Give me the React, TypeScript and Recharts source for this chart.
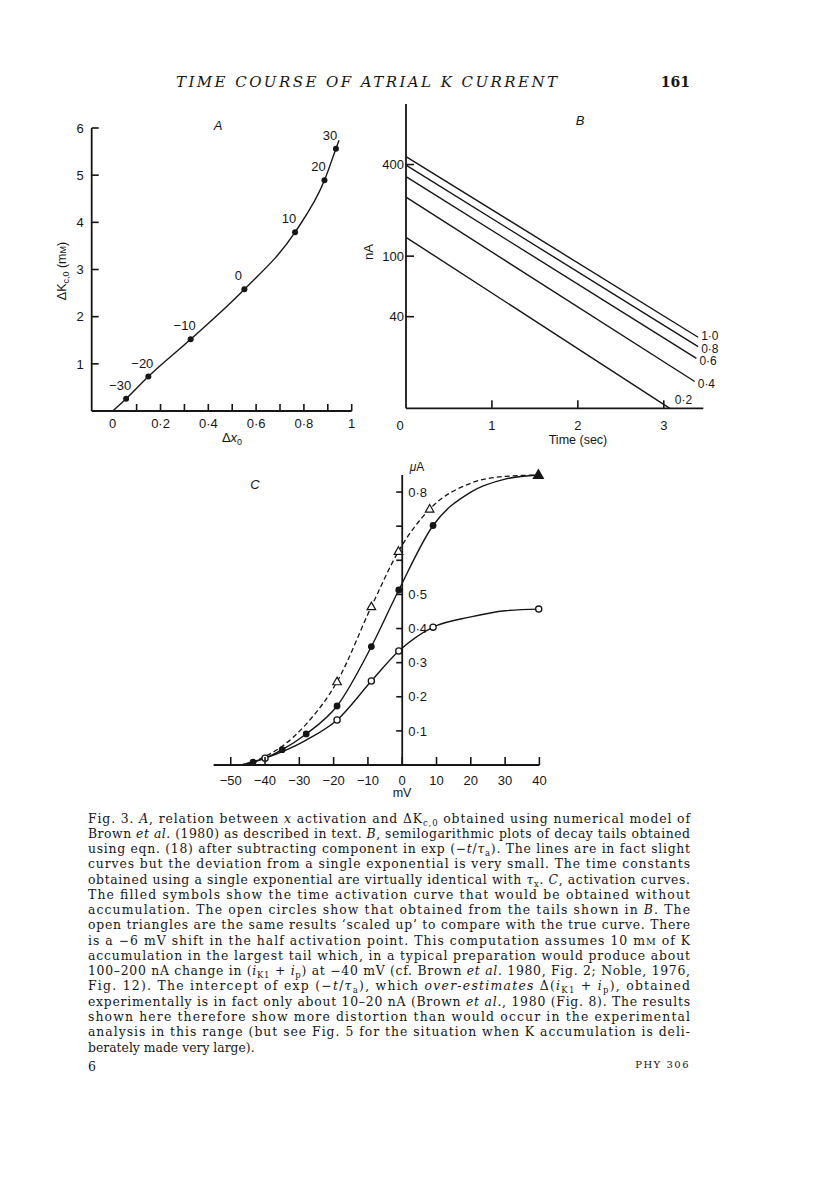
import React from 'react';
import { ComposedChart, Line, Scatter, XAxis, YAxis, ReferenceLine } from 'recharts';

const INK = '#161616';
const SANS = '"Liberation Sans", Arial, Helvetica, sans-serif';
const SERIF = '"DejaVu Serif", "Liberation Serif", serif';

// ---------- Panel A ----------
const aVoltages = [-30, -20, -10, 0, 10, 20, 30];
const aDeltaX = [0.056, 0.149, 0.326, 0.551, 0.763, 0.886, 0.934];
const aDeltaK = [0.26, 0.73, 1.52, 2.58, 3.79, 4.89, 5.56];
const aCurveStart = { x: 0, y: 0 };
const aCurveEnd = { x: 0.947, y: 5.74 };
const aXTicks = [0, 0.1, 0.2, 0.3, 0.4, 0.5, 0.6, 0.7, 0.8, 0.9, 1];
const aXLabels = [0, 0.2, 0.4, 0.6, 0.8, 1];
const aYTicks = [1, 2, 3, 4, 5, 6];

// ---------- Panel B ----------
const bLabels = ['1·0', '0·8', '0·6', '0·4', '0·2'];
const bStartNa = [451, 397, 333, 244, 133];
const bEndSec = [3.4, 3.4, 3.38, 3.36, 3.07];
const bEndNa = [29.3, 25.4, 21.3, 15.0, 10];
const bXTicks = [0, 1, 2, 3];
const bYTicks = [40, 100, 400];

// ---------- Panel C ----------
const cSolidCurveMv = [-47, -43.5, -40, -35, -28, -19, -9, -1, 9, 20, 30, 39.7];
const cSolidCurveUa = [0, 0.008, 0.02, 0.045, 0.091, 0.173, 0.347, 0.513, 0.702, 0.8, 0.838, 0.85];
const cDashCurveMv = [-46, -40, -35, -28, -19, -9, -1.1, 8, 20, 30, 39.7];
const cDashCurveUa = [0, 0.025, 0.055, 0.12, 0.244, 0.464, 0.626, 0.75, 0.826, 0.846, 0.85];
const cOpenCurveMv = [-47, -40, -28, -19, -9, -1, 9, 20, 30, 39.8];
const cOpenCurveUa = [0, 0.02, 0.073, 0.132, 0.246, 0.334, 0.404, 0.434, 0.452, 0.457];
const cFilledMv = [-43.5, -35, -28, -19, -9, -1, 9];
const cFilledUa = [0.008, 0.045, 0.091, 0.173, 0.347, 0.513, 0.702];
const cOpenMv = [-40, -19, -9, -1, 9, 39.8];
const cOpenUa = [0.02, 0.132, 0.246, 0.334, 0.404, 0.457];
const cTriMv = [-19, -9, -1.1, 8];
const cTriUa = [0.244, 0.464, 0.626, 0.75];
const cTopMv = [39.7];
const cTopUa = [0.85];
const cXTicks = [-50, -40, -30, -20, -10, 0, 10, 20, 30, 40];
const cYTicks = [0.1, 0.2, 0.3, 0.4, 0.5, 0.6, 0.7, 0.8];
const cYLabels = [0.1, 0.2, 0.3, 0.4, 0.5, 0.8];

const zip = (xs: number[], ys: number[]) => xs.map((x, i) => ({ x, y: ys[i] }));
const near = (list: number[], v: number) => list.some((l) => Math.abs(l - v) < 1e-6);
const fmt = (v: number) => {
  const s = Number.isInteger(v) ? String(Math.abs(v)) : Math.abs(v).toFixed(1).replace('.', '·');
  return (v < 0 ? '−' : '') + s;
};

const aDots = aVoltages.map((mv, i) => ({ x: aDeltaX[i], y: aDeltaK[i], mv }));
const aCurve = [aCurveStart, ...aDots.map((d) => ({ x: d.x, y: d.y })), aCurveEnd];

const bSeries = bLabels.map((lab, i) => [
  { x: 0, y: bStartNa[i] },
  { x: bEndSec[i], y: bEndNa[i] },
]);
const bEnds = bLabels.map((lab, i) => ({ x: bEndSec[i], y: bEndNa[i], lab }));

const cSolid = zip(cSolidCurveMv, cSolidCurveUa);
const cDash = zip(cDashCurveMv, cDashCurveUa);
const cOpen = zip(cOpenCurveMv, cOpenCurveUa);
const cFilled = zip(cFilledMv, cFilledUa);
const cOpenPts = zip(cOpenMv, cOpenUa);
const cTri = zip(cTriMv, cTriUa);
const cTop = zip(cTopMv, cTopUa);
const cTickPts = cYTicks.map((v) => ({ x: 0, y: v }));

const AXIS = { stroke: INK, strokeWidth: 1.8 };
const txt = { fontFamily: SANS, fontSize: 13, fill: INK } as const;

// ---------- tick renderers ----------
const AXTick = (p: any) => {
  const { x, y, payload } = p;
  const v = payload.value;
  return (
    <g>
      {v > 0 && <line x1={x} x2={x} y1={y} y2={y - 7} stroke={INK} strokeWidth={1.6} />}
      {near(aXLabels, v) && (
        <text x={x} y={y + 16.5} textAnchor="middle" {...txt}>
          {fmt(v)}
        </text>
      )}
    </g>
  );
};
const AYTick = (p: any) => {
  const { x, y, payload } = p;
  return (
    <g>
      <line x1={x} x2={x + 7} y1={y} y2={y} stroke={INK} strokeWidth={1.6} />
      <text x={x - 8} y={y + 4.7} textAnchor="end" {...txt}>
        {fmt(payload.value)}
      </text>
    </g>
  );
};
const BXTick = (p: any) => {
  const { x, y, payload } = p;
  const v = payload.value;
  return (
    <g>
      {v > 0 && <line x1={x} x2={x} y1={y} y2={y - 8} stroke={INK} strokeWidth={1.6} />}
      <text x={v === 0 ? x - 6 : x} y={y + 21.5} textAnchor="middle" {...txt}>
        {fmt(v)}
      </text>
    </g>
  );
};
const BYTick = (p: any) => {
  const { x, y, payload } = p;
  return (
    <g>
      <line x1={x} x2={x + 8} y1={y} y2={y} stroke={INK} strokeWidth={1.6} />
      <text x={x - 2} y={y + 4.7} textAnchor="end" {...txt}>
        {payload.value}
      </text>
    </g>
  );
};
const CXTick = (p: any) => {
  const { x, y, payload } = p;
  return (
    <g>
      <line x1={x} x2={x} y1={y} y2={y - 8} stroke={INK} strokeWidth={1.6} />
      <text x={x} y={y + 19.5} textAnchor="middle" {...txt}>
        {fmt(payload.value)}
      </text>
    </g>
  );
};

// ---------- marker shapes ----------
const ADot = (p: any) => {
  const { cx, cy, payload } = p;
  return (
    <g>
      <circle cx={cx} cy={cy} r={3} fill={INK} />
      <text x={cx - 6} y={cy - 9} textAnchor="middle" {...txt}>
        {fmt(payload.mv)}
      </text>
    </g>
  );
};
const bLabelDy: Record<string, number> = { '1·0': 2.5, '0·8': 6, '0·6': 6.5, '0·4': 6, '0·2': -4 };
const BEndLabel = (p: any) => {
  const { cx, cy, payload } = p;
  const low = payload.lab === '0·2';
  return (
    <text x={cx + (low ? 5 : 3)} y={cy + (bLabelDy[payload.lab] ?? 4)} textAnchor="start" {...txt} fontSize={12}>
      {payload.lab}
    </text>
  );
};
const CYTickShape = (p: any) => {
  const { cx, cy, payload } = p;
  return (
    <g>
      <line x1={cx - 6} x2={cx} y1={cy} y2={cy} stroke={INK} strokeWidth={1.6} />
      {near(cYLabels, payload.y) && (
        <text x={cx + 6} y={cy + 4.7} textAnchor="start" {...txt}>
          {fmt(payload.y)}
        </text>
      )}
    </g>
  );
};
const FilledCircle = (p: any) => <circle cx={p.cx} cy={p.cy} r={3.4} fill={INK} />;
const OpenCircle = (p: any) => (
  <circle cx={p.cx} cy={p.cy} r={3.1} fill="#fff" stroke={INK} strokeWidth={1.3} />
);
const OpenTriangle = (p: any) => (
  <polygon
    points={`${p.cx},${p.cy - 4.6} ${p.cx + 4.3},${p.cy + 3} ${p.cx - 4.3},${p.cy + 3}`}
    fill="#fff"
    stroke={INK}
    strokeWidth={1.2}
  />
);
const FilledTriangle = (p: any) => (
  <polygon
    points={`${p.cx},${p.cy - 6.5} ${p.cx + 6},${p.cy + 4} ${p.cx - 6},${p.cy + 4}`}
    fill={INK}
  />
);

// ---------- caption (SVG, each line justified to the column width) ----------
const It = ({ children }: any) => <tspan fontStyle="italic">{children}</tspan>;
const Sb = ({ children }: any) => (
  <tspan fontSize={8.5} baselineShift={-2.5}>
    {children}
  </tspan>
);
const captionLines: React.ReactNode[] = [
  <>Fig. 3. <It>A</It>, relation between <It>x</It> activation and ΔK<Sb>c,0</Sb> obtained using numerical model of</>,
  <>Brown <It>et al.</It> (1980) as described in text. <It>B</It>, semilogarithmic plots of decay tails obtained</>,
  <>using eqn. (18) after subtracting component in exp (−<It>t</It>/<It>τ</It><Sb>a</Sb>). The lines are in fact slight</>,
  <>curves but the deviation from a single exponential is very small. The time constants</>,
  <>obtained using a single exponential are virtually identical with <It>τ</It><Sb>x</Sb>. <It>C</It>, activation curves.</>,
  <>The filled symbols show the time activation curve that would be obtained without</>,
  <>accumulation. The open circles show that obtained from the tails shown in <It>B</It>. The</>,
  <>open triangles are the same results ‘scaled up’ to compare with the true curve. There</>,
  <>is a −6 mV shift in the half activation point. This computation assumes 10 m<tspan fontSize={9.5}>M</tspan> of K</>,
  <>accumulation in the largest tail which, in a typical preparation would produce about</>,
  <>100–200 nA change in (<It>i</It><Sb>K1</Sb> + <It>i</It><Sb>p</Sb>) at −40 mV (cf. Brown <It>et al.</It> 1980, Fig. 2; Noble, 1976,</>,
  <>Fig. 12). The intercept of exp (−<It>t</It>/<It>τ</It><Sb>a</Sb>), which <It>over-estimates</It> Δ(<It>i</It><Sb>K1</Sb> + <It>i</It><Sb>p</Sb>), obtained</>,
  <>experimentally is in fact only about 10–20 nA (Brown <It>et al.</It>, 1980 (Fig. 8). The results</>,
  <>shown here therefore show more distortion than would occur in the experimental</>,
  <>analysis in this range (but see Fig. 5 for the situation when K accumulation is deli-</>,
  <>berately made very large).</>,
];

const abs = (left: number, top: number): React.CSSProperties => ({ position: 'absolute', left, top });

export default function App() {
  return (
    <div style={{ position: 'absolute', left: 0, top: 0, width: 816, height: 1183, background: '#fff', overflow: 'hidden' }}>
      {/* Panel A */}
      <div style={abs(40, 100)}>
        <ComposedChart width={330} height={360} margin={{ top: 28, right: 18.3, left: 0, bottom: 9 }}>
          <XAxis
            type="number"
            dataKey="x"
            domain={[-0.088, 1]}
            ticks={aXTicks}
            interval={0}
            height={40}
            tickSize={0}
            tickMargin={0}
            tickLine={false}
            axisLine={AXIS}
            tick={AXTick}
          />
          <YAxis
            type="number"
            dataKey="y"
            domain={[0, 6]}
            ticks={aYTicks}
            interval={0}
            width={51.7}
            tickSize={0}
            tickMargin={0}
            tickLine={false}
            axisLine={AXIS}
            tick={AYTick}
          />
          <Line data={aCurve} dataKey="y" type="monotone" stroke={INK} strokeWidth={1.4} dot={false} isAnimationActive={false} />
          <Scatter data={aDots} dataKey="y" shape={ADot} isAnimationActive={false} />
        </ComposedChart>
      </div>

      {/* Panel B */}
      <div style={abs(360, 90)}>
        <ComposedChart width={370} height={370} margin={{ top: 14, right: 26.7, left: 0, bottom: 11.7 }}>
          <XAxis
            type="number"
            dataKey="x"
            domain={[0, 3.46]}
            ticks={bXTicks}
            interval={0}
            height={40}
            tickSize={0}
            tickMargin={0}
            tickLine={false}
            axisLine={AXIS}
            tick={BXTick}
          />
          <YAxis
            type="number"
            dataKey="y"
            scale="log"
            domain={[10, 1000]}
            ticks={bYTicks}
            interval={0}
            width={46}
            tickSize={0}
            tickMargin={0}
            tickLine={false}
            axisLine={AXIS}
            tick={BYTick}
          />
          {bSeries.map((d, i) => (
            <Line key={bLabels[i]} data={d} dataKey="y" type="linear" stroke={INK} strokeWidth={1.4} dot={false} isAnimationActive={false} />
          ))}
          <Scatter data={bEnds} dataKey="y" shape={BEndLabel} isAnimationActive={false} />
        </ComposedChart>
      </div>

      {/* Panel C */}
      <div style={abs(200, 455)}>
        <ComposedChart width={360} height={350} margin={{ top: 20, right: 20.6, left: 13.6, bottom: 10 }}>
          <XAxis
            type="number"
            dataKey="x"
            domain={[-55, 40]}
            ticks={cXTicks}
            interval={0}
            height={30}
            tickSize={0}
            tickMargin={0}
            tickLine={false}
            axisLine={AXIS}
            tick={CXTick}
          />
          <YAxis type="number" dataKey="y" domain={[0, 0.85]} hide />
          <ReferenceLine x={0} stroke={INK} strokeWidth={1.8} />
          <Scatter data={cTickPts} dataKey="y" shape={CYTickShape} isAnimationActive={false} />
          <Line data={cDash} dataKey="y" type="monotone" stroke={INK} strokeWidth={1.3} strokeDasharray="5 3" dot={false} isAnimationActive={false} />
          <Line data={cSolid} dataKey="y" type="monotone" stroke={INK} strokeWidth={1.4} dot={false} isAnimationActive={false} />
          <Line data={cOpen} dataKey="y" type="monotone" stroke={INK} strokeWidth={1.4} dot={false} isAnimationActive={false} />
          <Scatter data={cOpenPts} dataKey="y" shape={OpenCircle} isAnimationActive={false} />
          <Scatter data={cTri} dataKey="y" shape={OpenTriangle} isAnimationActive={false} />
          <Scatter data={cFilled} dataKey="y" shape={FilledCircle} isAnimationActive={false} />
          <Scatter data={cTop} dataKey="y" shape={FilledTriangle} isAnimationActive={false} />
        </ComposedChart>
      </div>

      {/* Static texts: header, panel letters, axis titles, caption */}
      <svg width={816} height={1183} style={{ position: 'absolute', left: 0, top: 0, pointerEvents: 'none' }}>
        <text x={176} y={87} textLength={381} lengthAdjust="spacing" fontFamily={SERIF} fontStyle="italic" fontSize={15} fill={INK}>
          TIME COURSE OF ATRIAL K CURRENT
        </text>
        <text x={690} y={87} textAnchor="end" fontFamily={SERIF} fontWeight="bold" fontSize={14} fill={INK}>
          161
        </text>

        <text x={218} y={130} textAnchor="middle" {...txt} fontStyle="italic">A</text>
        <text x={580} y={125} textAnchor="middle" {...txt} fontStyle="italic">B</text>
        <text x={255} y={489} textAnchor="middle" {...txt} fontStyle="italic">C</text>

        <text transform="translate(66,271) rotate(-90)" textAnchor="middle" {...txt} fontSize={12.5}>
          ΔK<tspan fontSize={9} dy={3}>c,0</tspan>
          <tspan dy={-3}> (m</tspan>
          <tspan fontSize={9}>M</tspan>
          <tspan>)</tspan>
        </text>
        <text x={232} y={442} textAnchor="middle" {...txt}>
          Δ<tspan fontStyle="italic">x</tspan>
          <tspan fontSize={9} dy={3}>0</tspan>
        </text>

        <text transform="translate(373,252) rotate(-90)" textAnchor="middle" {...txt}>nA</text>
        <text x={578} y={444} textAnchor="middle" {...txt} fontSize={12.5}>Time (sec)</text>

        <text x={417} y={471} textAnchor="middle" {...txt} fontSize={12}>
          <tspan fontStyle="italic">μ</tspan>A
        </text>
        <text x={402} y={797} textAnchor="middle" {...txt} fontSize={12.5}>mV</text>

        {captionLines.map((ln, i) => {
          const last = i === captionLines.length - 1;
          return (
            <text
              key={i}
              x={88}
              y={822.5 + i * 15.27}
              fontFamily={SERIF}
              fontSize={12.4}
              fill={INK}
              {...(last ? {} : { textLength: 602, lengthAdjust: 'spacing' })}
            >
              {ln}
            </text>
          );
        })}

        <text x={88} y={1071} fontFamily={SERIF} fontSize={12.5} fill={INK}>6</text>
        <text x={690} y={1068} textAnchor="end" fontFamily={SERIF} fontSize={10} letterSpacing={1.5} fill={INK}>
          PHY 306
        </text>
      </svg>
    </div>
  );
}
